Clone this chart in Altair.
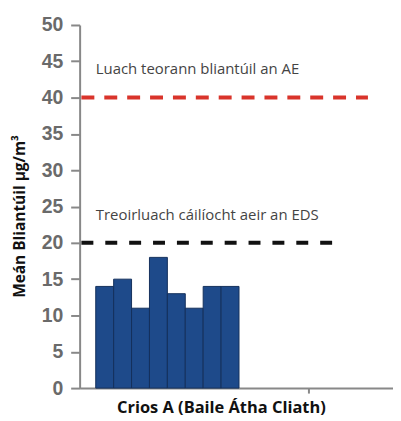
import altair as alt
import pandas as pd

values = [14, 15, 11, 18, 13, 11, 14, 14]
eu_limit = 40
who_guide = 20
eu_label = "Luach teorann bliantúil an AE"
who_label = "Treoirluach cáilíocht aeir an EDS"
y_title = "Meán Bliantúil µg/m³"
x_title = "Crios A (Baile Átha Cliath)"
y_ticks = list(range(0, 55, 5))

bar_offset = 0.9
df = pd.DataFrame({
    "x0": [bar_offset + i for i in range(len(values))],
    "x1": [bar_offset + i + 1 for i in range(len(values))],
    "v": values,
})

xscale = alt.Scale(domain=[0, 17.5], nice=False, zero=False)
yscale = alt.Scale(domain=[0, 50], nice=False)

xaxis = alt.Axis(
    values=[12.8], labels=False, title=x_title, titleFont="Open Sans",
    titleFontWeight="bold", titleFontSize=16.5, titleColor="#111", titlePadding=6,
    titleX=142, titleAlign="center", titleAnchor="start",
    domainColor="#888", domainWidth=2, tickColor="#888", tickSize=5, tickWidth=2, grid=False)
yaxis = alt.Axis(
    values=y_ticks, title=y_title, titleFont="Open Sans", titleFontWeight="bold",
    titleFontSize=15.5, titleColor="#111", titlePadding=14,
    titleY=192, titleAlign="center", titleAnchor="start",
    labelFont="Liberation Sans", labelFontSize=19.5, labelFontWeight="bold",
    labelColor="#6a6a6a", labelPadding=8, labelOverlap=False, domainColor="#888", domainWidth=2,
    tickColor="#888", tickSize=9, tickWidth=2, grid=False)

bars = alt.Chart(df).mark_rect(color="#1e4a8a", stroke="#14305c", strokeWidth=1).encode(
    x=alt.X("x0:Q", scale=xscale, axis=xaxis),
    x2="x1:Q",
    y=alt.Y("v:Q", scale=yscale, axis=yaxis),
    y2=alt.datum(0),
)

red = alt.Chart().mark_rule(color="#d9342b", strokeWidth=4, strokeDash=[13, 10]).encode(
    x=alt.XDatum(0.1, scale=xscale, axis=xaxis), x2=alt.datum(16.1),
    y=alt.YDatum(eu_limit, scale=yscale, axis=yaxis))
black = alt.Chart().mark_rule(color="#111", strokeWidth=4, strokeDash=[12, 12]).encode(
    x=alt.XDatum(0.1, scale=xscale, axis=xaxis), x2=alt.datum(14.6),
    y=alt.YDatum(who_guide, scale=yscale, axis=yaxis))

t1 = alt.Chart().mark_text(align="left", baseline="alphabetic", font="Open Sans", fontSize=15,
                           color="#444").encode(
    x=alt.XDatum(0.9, scale=xscale, axis=xaxis), y=alt.YDatum(43.3, scale=yscale, axis=yaxis),
    text=alt.datum(eu_label))
t2 = alt.Chart().mark_text(align="left", baseline="alphabetic", font="Open Sans", fontSize=15,
                           color="#444").encode(
    x=alt.XDatum(0.9, scale=xscale, axis=xaxis), y=alt.YDatum(23.1, scale=yscale, axis=yaxis),
    text=alt.datum(who_label))

chart = alt.layer(bars, red, black, t1, t2).properties(
    width=315, height=365,
    autosize=alt.AutoSizeParams(type="none"),
    padding={"left": 72, "top": 16, "right": 0, "bottom": 32},
).configure_view(stroke=None)

chart.save("out.html", embed_options={"renderer": "svg", "actions": False})
